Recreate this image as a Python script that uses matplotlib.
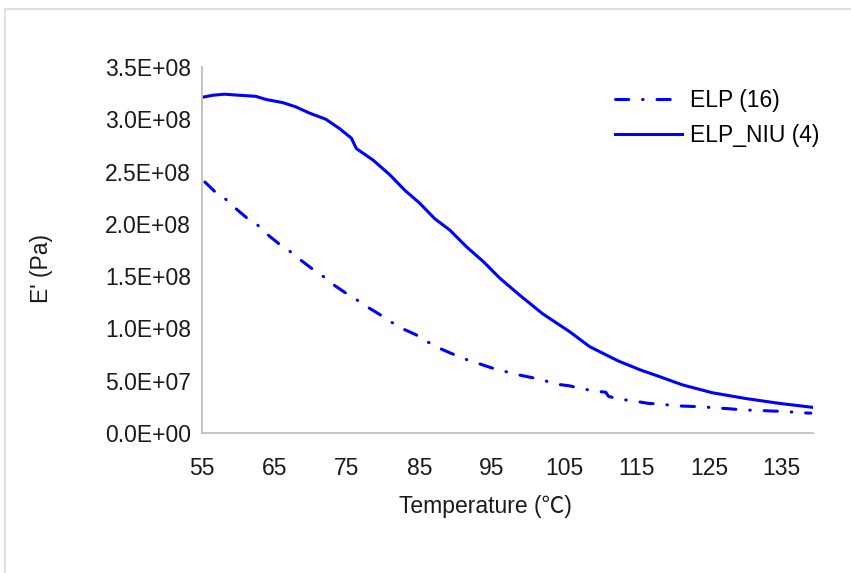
import numpy as np
import matplotlib
matplotlib.use("Agg")
import matplotlib.pyplot as plt
from matplotlib.ticker import FuncFormatter, MultipleLocator
from matplotlib.patches import Rectangle

plt.rcParams['font.family'] = ['Liberation Sans', 'Noto Sans CJK SC', 'DejaVu Sans']

# ELP_NIU (4), solid line -- E' in units of 1e8 Pa
t_niu = [55.0, 56.5, 58.1, 60.1, 62.4, 63.8, 66.1, 67.9, 69.8, 72.1, 74.0, 75.6,
         76.3, 78.6, 80.9, 83.0, 85.0, 87.1, 89.2, 91.5, 93.8, 96.1, 98.8, 102.0,
         105.7, 108.5, 112.4, 115.6, 118.1, 121.3, 125.4, 130.0, 134.7, 139.3]
e_niu = [3.21, 3.23, 3.24, 3.23, 3.22, 3.19, 3.16, 3.12, 3.06, 3.00, 2.91, 2.82,
         2.72, 2.61, 2.47, 2.32, 2.20, 2.05, 1.94, 1.78, 1.64, 1.48, 1.32, 1.14,
         0.97, 0.825, 0.69, 0.60, 0.54, 0.46, 0.385, 0.33, 0.283, 0.245]

# ELP (16), dash-dot line
t_elp = [55.4, 56.9, 58.2, 59.6, 61.3, 62.5, 64.0, 65.6, 66.9, 68.5, 70.2, 71.5,
         73.1, 74.8, 76.0, 77.7, 79.6, 80.9, 82.6, 84.5, 85.9, 87.6, 89.6, 91.0,
         92.9, 94.9, 96.4, 98.4, 100.5, 101.7, 103.8, 105.8, 107.3, 109.4, 110.7,
         111.1, 112.5, 114.6, 116.6, 118.2, 120.3, 122.3, 124.0, 126.0, 128.1,
         129.7, 131.7, 133.6, 135.5, 137.4, 139.0]
e_elp = [2.40, 2.30, 2.24, 2.15, 2.05, 2.00, 1.90, 1.81, 1.75, 1.66, 1.57, 1.51,
         1.42, 1.34, 1.29, 1.21, 1.13, 1.07, 1.00, 0.94, 0.88, 0.815, 0.755, 0.714,
         0.67, 0.624, 0.596, 0.56, 0.53, 0.513, 0.468, 0.45, 0.424, 0.40, 0.39,
         0.35, 0.325, 0.306, 0.283, 0.277, 0.26, 0.255, 0.25, 0.24, 0.23,
         0.22, 0.217, 0.21, 0.207, 0.194, 0.19]

x_ticks = [55, 65, 75, 85, 95, 105, 115, 125, 135]

scale = 1e8
fs = 16.5
blue = '#0000ff'
txt = '#1a1a1a'
lw = 2.2

fig = plt.figure(figsize=(8.51, 5.73), dpi=100)
# light grey frame around chart area (runs off right/bottom edge)
fig.patches.append(Rectangle((5 / 851, -0.1), 1.2, 1 - 9 / 573 + 0.1,
                             transform=fig.transFigure, fill=False,
                             edgecolor='#d9d9d9', lw=1.2))

ax = fig.add_axes([202 / 851, 1 - 433 / 573, (813 - 202) / 851, (433 - 67) / 573])

# dash pattern gets multiplied by lw
ax.plot(t_elp, np.array(e_elp) * scale, color=blue, lw=lw,
        dashes=(9.5 / lw, 10.0 / lw, 0.4 / lw, 10.0 / lw),
        dash_capstyle='round', label='ELP (16)')
ax.plot(t_niu, np.array(e_niu) * scale, color=blue, lw=lw, label='ELP_NIU (4)')

ax.set_xlim(55, 139.3)
ax.set_ylim(0, 3.5e8)
ax.set_xticks(x_ticks)
ax.yaxis.set_major_locator(MultipleLocator(5e7))
ax.yaxis.set_major_formatter(FuncFormatter(lambda v, p: f"{v:.1E}"))

for s in ['top', 'right']:
    ax.spines[s].set_visible(False)
for s in ['left', 'bottom']:
    ax.spines[s].set_color('#bfbfbf')
    ax.spines[s].set_linewidth(1.3)
ax.tick_params(length=0, labelsize=fs, colors=txt)
ax.tick_params(axis='x', pad=17)
ax.tick_params(axis='y', pad=8)

ax.set_xlabel('Temperature (℃)', fontsize=fs, color=txt)
ax.set_ylabel("E' (Pa)", fontsize=fs, color=txt)
ax.xaxis.set_label_coords((485 - 202) / 611, (433 - 495) / 366)
ax.yaxis.set_label_coords((53 - 202) / 611, 0.45)

ax.legend(loc='upper left', bbox_to_anchor=(604 / 851, 1 - 78 / 573),
          bbox_transform=fig.transFigure, frameon=False, fontsize=fs,
          handlelength=2.9, handletextpad=0.35, labelspacing=0.5, borderpad=0)

fig.savefig('out.png', dpi=100)
